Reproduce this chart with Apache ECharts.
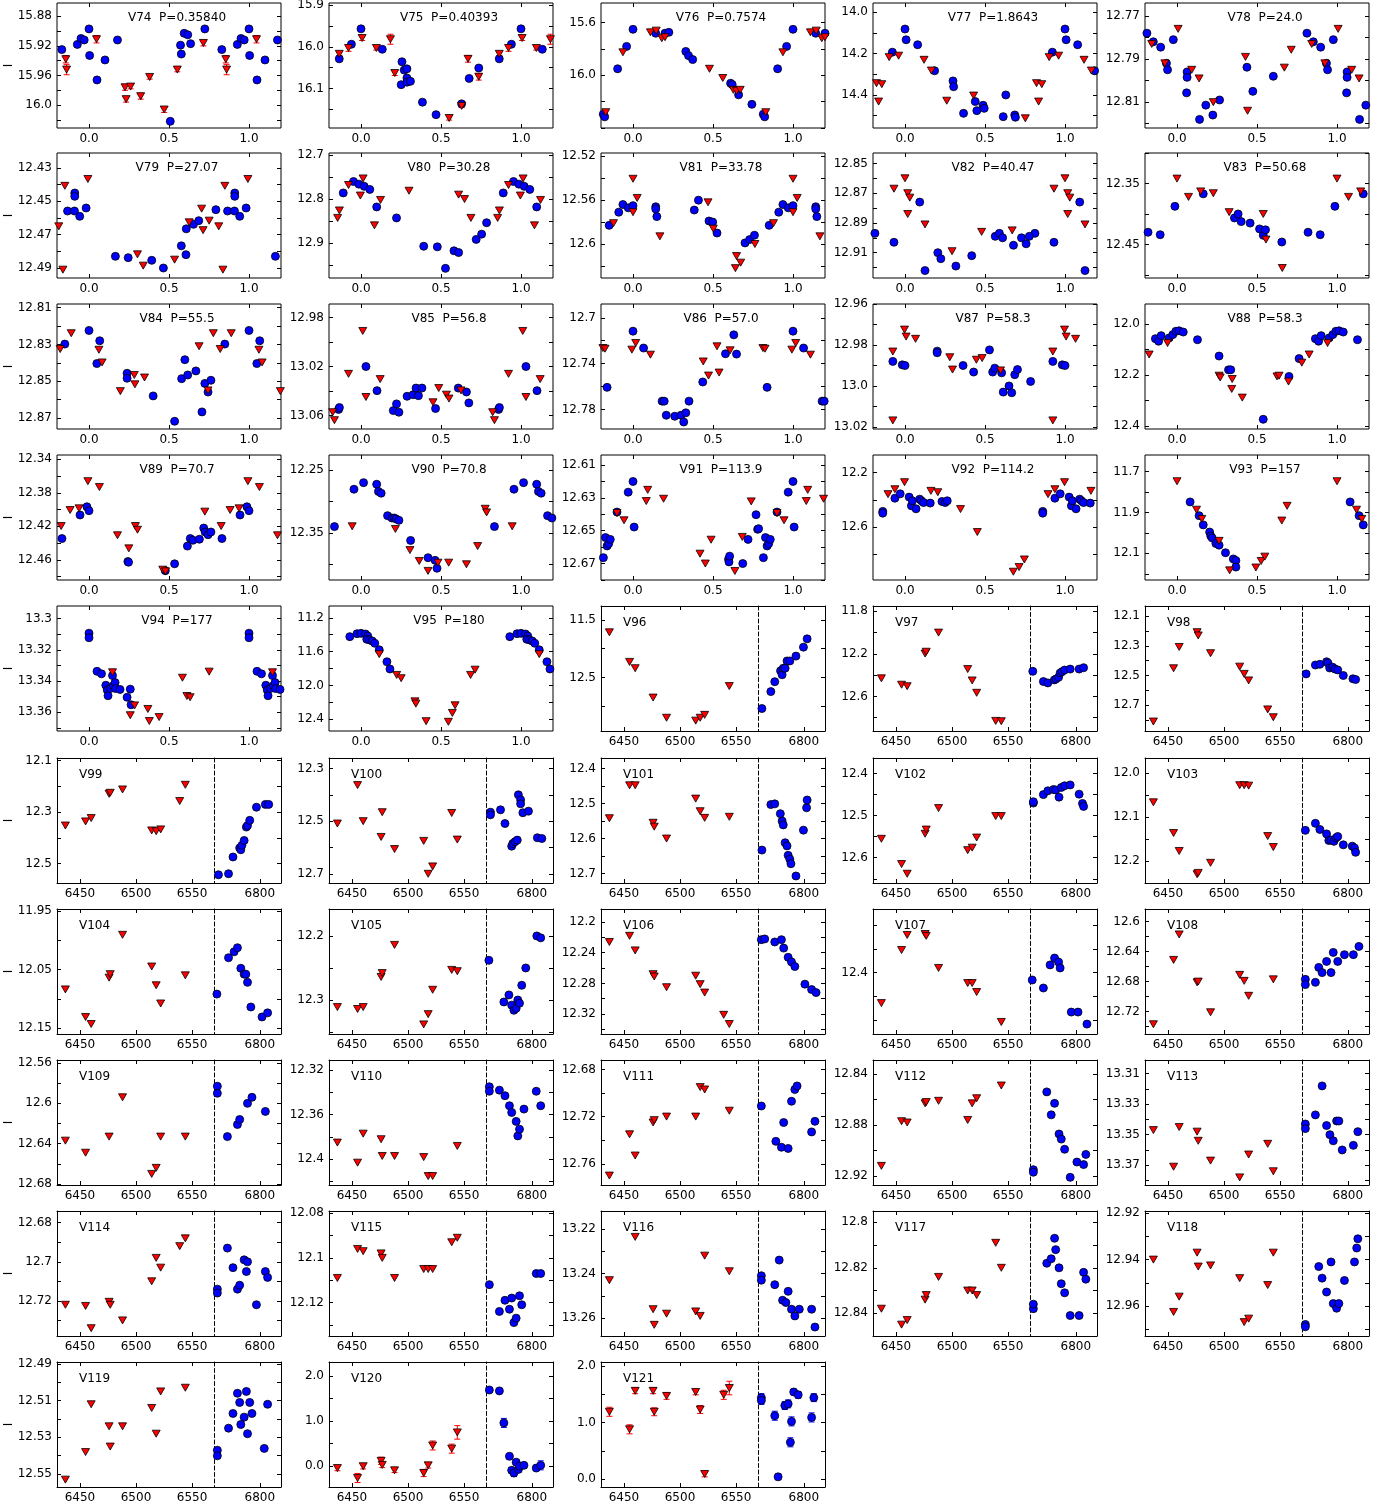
<!DOCTYPE html>
<html><head><meta charset="utf-8">
<script src="https://cdn.jsdelivr.net/npm/echarts@6/dist/echarts.min.js"></script>
<style>html,body{margin:0;padding:0;background:#fff}#c{width:1391px;height:1508px}</style>
</head><body><div id="c"></div>
<script>
// ---------------- DATA ----------------
const phaseNames=['V74','V75','V76','V77','V78','V79','V80','V81','V82','V83','V84','V85','V86','V87','V88','V89','V90','V91','V92','V93','V94','V95'];
const periods=['0.35840','0.40393','0.7574','1.8643','24.0','27.07','30.28','33.78','40.47','50.68','55.5','56.8','57.0','58.3','58.3','70.7','70.8','113.9','114.2','157','177','180'];
const brokenNames=['V96','V97','V98','V99','V100','V101','V102','V103','V104','V105','V106','V107','V108','V109','V110','V111','V112','V113','V114','V115','V116','V117','V118','V119','V120','V121'];
const phaseTickLabels=['0.0','0.5','1.0'];
const leftTickLabels=['6450','6500','6550'];
const rightTickLabels=['6800'];
const phaseRange=[-0.2,1.2];
const leftRange=[6429.5,6569.6];
const rightRange=[6759,6819];
const leftDays=[6437,6455,6460,6476,6477,6488,6514,6518,6522,6539,6544];

const yRange={V74:[15.862,16.031],V75:[15.895,16.195],V76:[15.45,16.4],V77:[13.955,14.56],V78:[12.764,12.822],
V79:[12.421,12.496],V80:[12.695,12.98],V81:[12.517,12.631],V82:[12.843,12.927],V83:[12.3,12.505],
V84:[12.808,12.876],V85:[12.969,13.071],V86:[12.688,12.797],V87:[12.96,13.021],V88:[11.922,12.412],
V89:[12.335,12.484],V90:[12.226,12.425],V91:[12.604,12.68],V92:[12.07,12.99],V93:[11.62,12.23],
V94:[13.292,13.372],V95:[11.06,12.54],V96:[11.26,13.43],V97:[11.75,12.925],V98:[12.03,12.875],
V99:[12.09,12.575],V100:[12.26,12.735],V101:[12.37,12.727],V102:[12.363,12.66],V103:[11.965,12.25],
V104:[11.947,12.16],V105:[12.158,12.353],V106:[12.183,12.346],V107:[12.13,12.66],V108:[12.583,12.75],
V109:[12.557,12.681],V110:[12.311,12.423],V111:[12.672,12.778],V112:[12.829,12.927],V113:[13.301,13.383],
V114:[12.674,12.738],V115:[12.079,12.135],V116:[13.212,13.268],V117:[12.795,12.85],V118:[12.919,12.973],
V119:[12.489,12.557],V120:[-0.46,2.31],V121:[-0.14,2.07]};
const yLabels={V74:['15.88','15.92','15.96','16.0'],V75:['15.9','16.0','16.1'],V76:['15.6','16.0'],V77:['14.0','14.2','14.4'],
V78:['12.77','12.79','12.81'],V79:['12.43','12.45','12.47','12.49'],V80:['12.7','12.8','12.9'],V81:['12.52','12.56','12.6'],
V82:['12.85','12.87','12.89','12.91'],V83:['12.35','12.45'],V84:['12.81','12.83','12.85','12.87'],V85:['12.98','13.02','13.06'],
V86:['12.7','12.74','12.78'],V87:['12.96','12.98','13.0','13.02'],V88:['12.0','12.2','12.4'],V89:['12.34','12.38','12.42','12.46'],
V90:['12.25','12.35'],V91:['12.61','12.63','12.65','12.67'],V92:['12.2','12.6'],V93:['11.7','11.9','12.1'],
V94:['13.3','13.32','13.34','13.36'],V95:['11.2','11.6','12.0','12.4'],V96:['11.5','12.5'],V97:['11.8','12.2','12.6'],
V98:['12.1','12.3','12.5','12.7'],V99:['12.1','12.3','12.5'],V100:['12.3','12.5','12.7'],V101:['12.4','12.5','12.6','12.7'],
V102:['12.4','12.5','12.6'],V103:['12.0','12.1','12.2'],V104:['11.95','12.05','12.15'],V105:['12.2','12.3'],
V106:['12.2','12.24','12.28','12.32'],V107:['12.4'],V108:['12.6','12.64','12.68','12.72'],V109:['12.56','12.6','12.64','12.68'],
V110:['12.32','12.36','12.4'],V111:['12.68','12.72','12.76'],V112:['12.84','12.88','12.92'],V113:['13.31','13.33','13.35','13.37'],
V114:['12.68','12.7','12.72'],V115:['12.08','12.1','12.12'],V116:['13.22','13.24','13.26'],V117:['12.8','12.82','12.84'],
V118:['12.92','12.94','12.96'],V119:['12.49','12.51','12.53','12.55'],V120:['0.0','1.0','2.0'],V121:['0.0','1.0','2.0']};
const yStep={V74:0.02,V75:0.05,V76:0.2,V77:0.1,V78:0.01,V79:0.01,V80:0.05,V81:0.02,V82:0.01,V83:0.05,V84:0.01,V85:0.02,
V86:0.02,V87:0.01,V88:0.1,V89:0.02,V90:0.05,V91:0.01,V92:0.2,V93:0.1,V94:0.01,V95:0.2,V96:0.5,V97:0.2,V98:0.1,V99:0.1,
V100:0.1,V101:0.05,V102:0.05,V103:0.05,V104:0.05,V105:0.05,V106:0.02,V107:0.1,V108:0.02,V109:0.02,V110:0.02,V111:0.02,
V112:0.02,V113:0.01,V114:0.01,V115:0.01,V116:0.01,V117:0.01,V118:0.01,V119:0.01,V120:0.5,V121:0.5};
const notInverted=['V120','V121'];

// phase-folded panels: [phase, mag(, err)]
const V74b=[[0.83,15.925],[0.927,15.918],[0.95,15.910],[0.97,15.912],[0.0,15.897],[0.004,15.933],[0.05,15.966],[0.10,15.939],[0.178,15.912],[0.508,16.022],[0.572,15.919],[0.577,15.931],[0.595,15.903],[0.617,15.905],[0.635,15.917],[0.724,15.897]];
const V74r=[[0.855,15.938,0.005],[0.86,15.952,0.007],[0.047,15.911,0.005],[0.225,15.976,0.004],[0.232,15.992,0.004],[0.26,15.975,0.003],[0.323,15.988,0.004],[0.379,15.962,0.003],[0.47,16.006,0.004],[0.552,15.952,0.003],[0.715,15.916,0.004]];
const V75b=[[0.864,16.029],[0.94,15.994],[0.0,15.957],[0.133,16.006],[0.256,16.036],[0.27,16.056],[0.287,16.053],[0.251,16.091],[0.287,16.075],[0.287,16.085],[0.309,16.083],[0.384,16.133],[0.469,16.163],[0.629,16.137],[0.676,16.076],[0.736,16.051]];
const V75r=[[0.864,16.017,0.004],[0.922,16.003,0.008],[0.007,15.979,0.006],[0.096,16.003,0.005],[0.184,15.982,0.012],[0.211,16.063,0.006],[0.551,16.171,0.005],[0.629,16.142,0.004],[0.669,16.029,0.008],[0.736,16.072,0.008]];
const V76b=[[0.814,16.295],[0.823,16.315],[0.904,15.95],[0.96,15.78],[0.0,15.65],[0.142,15.68],[0.2,15.68],[0.224,15.673],[0.33,15.818],[0.347,15.85],[0.373,15.88],[0.61,16.06],[0.62,16.07],[0.66,16.148],[0.743,16.22]];
const V76r=[[0.83,16.28],[0.937,15.825],[0.109,15.673],[0.145,15.66],[0.18,15.718],[0.2,15.71],[0.478,15.95],[0.561,16.02],[0.627,16.11],[0.647,16.118],[0.67,16.11]];
const V77b=[[0.921,14.193],[0.0,14.081],[0.007,14.133],[0.079,14.157],[0.185,14.283],[0.3,14.332],[0.304,14.36],[0.366,14.489],[0.439,14.432],[0.449,14.476],[0.488,14.45],[0.495,14.465],[0.63,14.4],[0.614,14.505],[0.686,14.497],[0.69,14.508]];
const V77r=[[0.822,14.343],[0.835,14.432],[0.855,14.348],[0.901,14.217],[0.96,14.21],[0.119,14.23],[0.165,14.282],[0.261,14.428],[0.429,14.403],[0.752,14.513]];
const V78b=[[0.812,12.778],[0.852,12.782],[0.898,12.7845],[0.934,12.792],[0.941,12.795],[0.977,12.781],[0.063,12.796],[0.063,12.7985],[0.06,12.8057],[0.141,12.818],[0.18,12.8114],[0.224,12.816],[0.266,12.809],[0.437,12.7938],[0.474,12.805],[0.602,12.798]];
const V78r=[[0.842,12.783],[0.924,12.792],[0.007,12.776],[0.092,12.795],[0.138,12.799],[0.227,12.81],[0.428,12.789],[0.441,12.814],[0.671,12.794],[0.714,12.7857]];
const V79b=[[0.793,12.455],[0.866,12.4558],[0.911,12.445],[0.911,12.447],[0.909,12.4558],[0.942,12.459],[0.982,12.454],[0.165,12.483],[0.245,12.4838],[0.392,12.4854],[0.465,12.49],[0.577,12.4767],[0.606,12.482],[0.608,12.4665],[0.653,12.4638],[0.686,12.4616]];
const V79r=[[0.811,12.465],[0.837,12.491],[0.849,12.4407],[0.993,12.4366],[0.303,12.4818],[0.339,12.4886],[0.535,12.485],[0.626,12.4626],[0.704,12.4544],[0.713,12.4673],[0.751,12.4616]];
const V80b=[[0.889,12.786],[0.953,12.76],[0.987,12.766],[0.02,12.771],[0.055,12.778],[0.098,12.818],[0.222,12.843],[0.392,12.9076],[0.477,12.909],[0.528,12.958],[0.581,12.918],[0.61,12.922],[0.72,12.892],[0.754,12.88],[0.785,12.854]];
const V80r=[[0.854,12.843],[0.865,12.826],[0.922,12.768],[0.996,12.792],[0.013,12.753],[0.084,12.86],[0.122,12.802],[0.3,12.781],[0.61,12.79],[0.647,12.8],[0.687,12.843]];
const V81b=[[0.851,12.583],[0.911,12.571],[0.937,12.564],[0.97,12.567],[0.0,12.565],[0.142,12.566],[0.142,12.568],[0.149,12.575],[0.383,12.569],[0.409,12.56],[0.475,12.579],[0.498,12.58],[0.525,12.59],[0.7,12.599],[0.729,12.596],[0.759,12.592]];
const V81r=[[0.878,12.581],[0.0,12.5405],[0.0,12.571],[0.026,12.558],[0.168,12.593],[0.469,12.562],[0.502,12.586],[0.647,12.611],[0.673,12.617],[0.64,12.622],[0.762,12.6]];
const V82b=[[0.812,12.897],[0.931,12.903],[0.092,12.876],[0.125,12.922],[0.205,12.91],[0.224,12.914],[0.318,12.919],[0.417,12.912],[0.564,12.899],[0.59,12.897],[0.61,12.9],[0.678,12.905],[0.728,12.9],[0.757,12.904],[0.777,12.899]];
const V82r=[[0.931,12.867],[0.0,12.86],[0.017,12.87],[0.03,12.873],[0.017,12.884],[0.125,12.891],[0.294,12.909],[0.479,12.896],[0.67,12.895]];
const V83b=[[0.819,12.43],[0.895,12.434],[0.987,12.3875],[0.164,12.367],[0.359,12.4065],[0.382,12.4],[0.401,12.4125],[0.457,12.415],[0.516,12.4245],[0.539,12.435],[0.553,12.426],[0.655,12.446]];
const V83r=[[0.0,12.342],[0.072,12.372],[0.148,12.363],[0.227,12.366],[0.326,12.397],[0.539,12.4],[0.556,12.442],[0.658,12.4886]];
const V84b=[[0.849,12.8298],[0.0,12.8224],[0.049,12.8404],[0.067,12.828],[0.238,12.8457],[0.238,12.8484],[0.401,12.858],[0.535,12.8718],[0.579,12.8486],[0.599,12.8383],[0.617,12.8466],[0.668,12.8444],[0.706,12.8667],[0.724,12.8512],[0.744,12.8559],[0.762,12.8495]];
const V84r=[[0.82,12.8325],[0.889,12.8239],[0.062,12.8329],[0.082,12.8398],[0.196,12.8554],[0.283,12.8466],[0.287,12.8517],[0.347,12.848],[0.688,12.831],[0.744,12.855],[0.777,12.8239]];
const V85b=[[0.86,13.055],[0.865,13.0535],[0.031,13.02],[0.1,13.0397],[0.202,13.056],[0.222,13.0505],[0.237,13.0573],[0.288,13.0443],[0.326,13.043],[0.344,13.0376],[0.359,13.0438],[0.381,13.0376],[0.466,13.0543],[0.608,13.0376],[0.659,13.0408],[0.674,13.0497]];
const V85r=[[0.823,13.0573],[0.834,13.0638],[0.922,13.026],[0.011,12.991],[0.031,13.0449],[0.12,13.0303],[0.45,13.0492],[0.486,13.0376],[0.534,13.043],[0.55,13.0462],[0.625,13.0395]];
const V86b=[[0.838,12.7607],[0.0,12.7117],[0.066,12.7264],[0.182,12.7727],[0.195,12.7727],[0.208,12.785],[0.261,12.7859],[0.3,12.785],[0.317,12.7909],[0.33,12.7829],[0.35,12.7727],[0.436,12.756],[0.578,12.7314],[0.63,12.7149],[0.647,12.7317]];
const V86r=[[0.812,12.7264],[0.825,12.727],[0.993,12.7278],[0.017,12.722],[0.109,12.7322],[0.439,12.7381],[0.472,12.7504],[0.525,12.7249],[0.538,12.7478],[0.607,12.7284]];
const V87b=[[0.924,12.988],[0.983,12.9897],[0.0,12.99],[0.201,12.983],[0.201,12.9838],[0.363,12.99],[0.429,12.9932],[0.528,12.9824],[0.548,12.9932],[0.561,12.9913],[0.604,12.9936],[0.614,13.003],[0.65,13.0],[0.667,13.0033],[0.686,12.9945],[0.703,12.992],[0.785,12.9978]];
const V87r=[[0.924,12.9832],[0.924,13.0168],[0.997,12.9725],[0.007,12.9759],[0.066,12.977],[0.28,12.986],[0.297,12.992],[0.446,12.9872],[0.482,12.9864],[0.597,12.9924]];
const V88b=[[0.865,12.058],[0.885,12.068],[0.901,12.046],[0.951,12.055],[0.974,12.042],[0.993,12.029],[0.013,12.027],[0.039,12.032],[0.128,12.062],[0.263,12.126],[0.322,12.18],[0.336,12.18],[0.539,12.374],[0.7,12.206],[0.763,12.136]];
const V88r=[[0.826,12.12],[0.941,12.075],[0.263,12.203],[0.27,12.21],[0.342,12.255],[0.345,12.216],[0.408,12.289],[0.625,12.206],[0.638,12.203],[0.697,12.226],[0.78,12.152]];
const V89b=[[0.831,12.4346],[0.944,12.4065],[0.987,12.3967],[0.0,12.4014],[0.243,12.462],[0.247,12.4628],[0.477,12.4729],[0.535,12.4647],[0.615,12.4436],[0.633,12.4346],[0.65,12.4366],[0.69,12.4354],[0.717,12.4221],[0.726,12.4268],[0.744,12.43],[0.762,12.4268]];
const V89r=[[0.826,12.4197],[0.882,12.4006],[0.938,12.3986],[0.993,12.3662],[0.065,12.3732],[0.178,12.4307],[0.249,12.4463],[0.29,12.4197],[0.303,12.4241],[0.461,12.4717],[0.479,12.4737],[0.724,12.4025]];
const V90b=[[0.834,12.34],[0.956,12.2805],[0.016,12.27],[0.098,12.2726],[0.109,12.284],[0.126,12.2868],[0.166,12.3226],[0.193,12.3263],[0.208,12.3263],[0.22,12.3279],[0.237,12.33],[0.31,12.362],[0.419,12.3895],[0.463,12.3937],[0.475,12.4063]];
const V90r=[[0.945,12.3395],[0.215,12.3437],[0.306,12.3774],[0.364,12.3947],[0.419,12.4105],[0.481,12.3974],[0.548,12.3974],[0.659,12.4],[0.729,12.371],[0.776,12.3116],[0.785,12.3174]];
const V91b=[[0.686,12.67],[0.719,12.6553],[0.769,12.6403],[0.779,12.6492],[0.785,12.6488],[0.815,12.6664],[0.828,12.6542],[0.838,12.6593],[0.848,12.6579],[0.858,12.6553],[0.9,12.6387],[0.97,12.6266],[0.0,12.6201],[0.007,12.6478],[0.597,12.6674],[0.6,12.669],[0.604,12.6655]];
const V91r=[[0.944,12.6437],[0.083,12.632],[0.092,12.6252],[0.191,12.6306],[0.419,12.664],[0.452,12.67],[0.488,12.6555],[0.637,12.6745],[0.683,12.6538],[0.739,12.6322],[0.9,12.6393]];
const V92b=[[0.861,12.485],[0.861,12.498],[0.937,12.388],[0.97,12.356],[0.026,12.38],[0.04,12.444],[0.046,12.407],[0.069,12.466],[0.092,12.395],[0.102,12.407],[0.116,12.42],[0.158,12.424],[0.231,12.412],[0.251,12.42],[0.264,12.407]];
const V92r=[[0.894,12.358],[0.937,12.322],[0.997,12.27],[0.162,12.334],[0.205,12.344],[0.347,12.468],[0.452,12.637],[0.677,12.929],[0.713,12.895],[0.746,12.839]];
const V93b=[[0.082,11.849],[0.138,11.916],[0.164,11.961],[0.204,11.996],[0.211,12.015],[0.22,12.025],[0.243,12.052],[0.263,12.06],[0.303,12.097],[0.352,12.127],[0.368,12.135],[0.368,12.167]];
const V93r=[[0.0,11.748],[0.122,11.887],[0.155,11.932],[0.263,12.039],[0.329,12.183],[0.493,12.169],[0.526,12.137],[0.549,12.116],[0.655,11.94],[0.688,11.868]];
const V94b=[[0.0,13.3094],[0.0,13.3123],[0.05,13.3338],[0.078,13.3354],[0.105,13.3427],[0.114,13.3458],[0.119,13.3494],[0.133,13.3448],[0.147,13.3365],[0.152,13.3431],[0.163,13.341],[0.166,13.3448],[0.194,13.3454],[0.238,13.3504],[0.258,13.3452],[0.263,13.3552]];
const V94r=[[0.147,13.3344],[0.258,13.3619],[0.285,13.3556],[0.368,13.3579],[0.377,13.3656],[0.438,13.3631],[0.584,13.3379],[0.612,13.3496],[0.632,13.3504],[0.751,13.334]];
const V95b=[[0.93,11.423],[0.975,11.388],[0.0,11.384],[0.028,11.392],[0.042,11.415],[0.036,11.454],[0.053,11.462],[0.07,11.474],[0.086,11.501],[0.114,11.579],[0.162,11.72],[0.181,11.806]];
const V95r=[[0.114,11.63],[0.223,11.876],[0.251,11.915],[0.337,12.189],[0.343,12.216],[0.407,12.424],[0.546,12.431],[0.571,12.326],[0.588,12.236],[0.685,11.876],[0.713,11.814]];

// broken-axis panels: red = mags at leftDays, blue = [day, mag]
const V96r=[11.717,12.23,12.34,12.85,null,13.2,13.25,13.2,13.15,null,12.65];
const V96b=[[6762.5,13.04],[6770.5,12.746],[6774,12.574],[6779.2,12.386],[6780.6,12.454],[6781.6,12.34],[6783.3,12.34],[6785,12.214],[6787.5,12.214],[6793,12.13],[6799.7,11.974],[6803,11.83]];
const V97r=[12.43,12.49,12.504,12.197,12.18,12.0,12.343,12.45,12.566,12.83,12.833];
const V97b=[[6761.5,12.364],[6771,12.46],[6775,12.473],[6780.8,12.445],[6782.3,12.436],[6784.6,12.42],[6786,12.38],[6787.7,12.367],[6790,12.352],[6795,12.343],[6803,12.343],[6807,12.33]];
const V98r=[12.811,12.451,12.307,12.207,12.229,12.349,12.44,12.489,12.533,12.729,12.782];
const V98b=[[6762.7,12.489],[6771,12.429],[6775,12.424],[6781,12.407],[6782.3,12.416],[6783.8,12.449],[6786.5,12.444],[6788.5,12.456],[6791,12.462],[6796,12.5],[6804.6,12.522],[6807,12.527]];
const V99r=[12.352,12.336,12.323,12.229,12.225,12.212,12.371,12.374,12.367,12.257,12.194];
const V99b=[[6763,12.543],[6772,12.539],[6776,12.474],[6782,12.439],[6783,12.446],[6784,12.429],[6786,12.41],[6788,12.358],[6789,12.352],[6791,12.332],[6797,12.281],[6805,12.27],[6808,12.27]];
const V100r=[12.509,12.363,12.5,12.56,12.466,12.606,12.575,12.7,12.672,12.469,12.57];
const V100b=[[6763,12.466],[6763,12.476],[6772,12.457],[6776,12.509],[6782,12.595],[6783,12.585],[6785,12.578],[6787,12.572],[6788,12.4],[6790,12.419],[6790,12.434],[6792,12.468],[6797,12.462],[6805,12.563],[6809,12.566]];
const V101r=[12.542,12.448,12.448,12.555,12.566,12.6,12.486,12.522,12.541,null,12.538];
const V101b=[[6762.5,12.633],[6770.5,12.503],[6774,12.501],[6779,12.529],[6780.6,12.55],[6781.6,12.561],[6783.3,12.612],[6785,12.621],[6786,12.648],[6787.5,12.659],[6788.5,12.672],[6793,12.707],[6799.7,12.576],[6802.5,12.512],[6803,12.49]];
const V102r=[12.555,12.615,12.638,12.543,12.533,12.482,12.582,12.576,12.552,12.501,12.501];
const V102b=[[6762,12.47],[6762,12.467],[6771,12.45],[6775,12.441],[6780,12.438],[6782,12.439],[6785,12.456],[6787,12.433],[6790,12.429],[6795,12.427],[6803,12.449],[6806,12.471],[6807,12.478]];
const V103r=[12.066,12.136,12.177,12.23,12.227,12.204,12.027,12.027,12.028,12.143,12.168];
const V103b=[[6762,12.13],[6771,12.114],[6775,12.128],[6781,12.138],[6783,12.153],[6785,12.152],[6787.6,12.155],[6789.6,12.147],[6791,12.144],[6796,12.163],[6804,12.166],[6806,12.17],[6807,12.18]];
const V104r=[12.084,12.131,12.143,12.064,12.058,11.991,12.045,12.077,12.108,null,12.06];
const V104b=[[6761.6,12.092],[6772,12.03],[6777,12.02],[6780,12.013],[6783,12.048],[6786,12.058],[6787.5,12.058],[6789,12.072],[6792,12.114],[6802,12.131],[6807,12.124]];
const V105r=[12.311,12.314,12.311,12.264,12.258,12.214,12.338,12.322,12.284,12.253,12.255];
const V105b=[[6761.6,12.238],[6775,12.303],[6779.5,12.292],[6782,12.308],[6784,12.316],[6786,12.313],[6787.5,12.3],[6789,12.305],[6791,12.277],[6794.6,12.25],[6804.5,12.2],[6808,12.203]];
const V106r=[12.226,12.218,12.237,12.268,12.271,12.285,12.27,12.281,12.292,12.321,12.333];
const V106b=[[6762,12.223],[6765,12.222],[6774,12.226],[6780,12.223],[6782,12.234],[6786,12.246],[6789,12.252],[6792,12.258],[6801,12.281],[6807,12.288],[6811,12.292]];
const V107r=[12.529,12.304,12.24,12.236,12.244,12.38,12.444,12.444,12.482,null,12.609];
const V107b=[[6761,12.431],[6771,12.465],[6777,12.367],[6781,12.338],[6784.6,12.355],[6786,12.38],[6796,12.567],[6802,12.567],[6810,12.618]];
const V108r=[12.737,12.651,12.617,12.681,12.68,12.721,12.671,12.679,12.699,null,12.677];
const V108b=[[6762,12.677],[6762,12.684],[6771,12.681],[6774,12.661],[6777,12.668],[6781,12.653],[6785,12.668],[6787,12.641],[6791,12.653],[6797,12.644],[6805,12.644],[6810,12.633]];
const V109r=[12.637,12.649,null,12.633,null,12.594,12.67,12.664,12.633,null,12.633];
const V109b=[[6762,12.583],[6762,12.59],[6771,12.633],[6780,12.621],[6782,12.616],[6789,12.6],[6793,12.594],[6805,12.608]];
const V110r=[12.385,12.403,12.377,12.382,12.397,12.397,12.398,12.415,12.415,null,12.388];
const V110b=[[6762,12.335],[6762,12.339],[6771,12.338],[6776,12.343],[6780,12.352],[6782,12.358],[6786,12.366],[6787.5,12.379],[6789,12.373],[6793,12.355],[6804,12.339],[6808,12.352]];
const V111r=[12.77,12.735,12.753,12.725,12.723,12.72,12.72,12.695,12.697,null,12.715];
const V111b=[[6762,12.711],[6775,12.741],[6780,12.746],[6782,12.725],[6786,12.747],[6789,12.707],[6792,12.697],[6794,12.694],[6807,12.733],[6810,12.724]];
const V112r=[12.912,12.877,12.878,12.863,12.862,12.861,12.876,12.863,12.859,null,12.849];
const V112b=[[6762,12.915],[6762,12.917],[6774,12.854],[6778,12.872],[6781,12.863],[6785,12.887],[6787,12.891],[6790,12.899],[6795,12.921],[6801,12.909],[6807,12.911],[6809,12.903]];
const V113r=[13.347,13.371,13.345,13.348,13.354,13.367,13.378,null,13.363,13.356,13.374];
const V113b=[[6762,13.343],[6762,13.346],[6771,13.337],[6777,13.318],[6781,13.344],[6784,13.35],[6787,13.354],[6790,13.341],[6792,13.341],[6795,13.36],[6805,13.357],[6809,13.348]];
const V114r=[12.722,12.7226,12.734,12.7205,12.722,12.73,12.71,12.698,12.703,12.692,12.688];
const V114b=[[6762,12.714],[6762,12.716],[6771,12.693],[6776,12.703],[6780,12.714],[6782,12.712],[6786,12.699],[6788,12.705],[6789,12.7],[6797,12.722],[6805,12.705],[6807,12.708]];
const V115r=[12.109,12.096,12.097,12.098,12.1,12.109,12.105,12.105,12.105,12.093,12.091];
const V115b=[[6762,12.112],[6771,12.124],[6776,12.119],[6780,12.123],[6782,12.118],[6784,12.129],[6786,12.127],[6789,12.117],[6791,12.121],[6804,12.107],[6808,12.107]];
const V116r=[13.243,null,13.2236,13.256,13.263,13.258,13.257,13.259,13.232,null,13.239];
const V116b=[[6762,13.241],[6762,13.243],[6774,13.245],[6778,13.234],[6781,13.252],[6784,13.253],[6786,13.248],[6789,13.256],[6792,13.259],[6796,13.256],[6807,13.256],[6810,13.264]];
const V117r=[12.838,12.845,12.843,12.834,12.832,12.824,12.83,12.83,12.832,12.809,12.82];
const V117b=[[6762,12.838],[6762,12.836],[6774,12.818],[6778,12.816],[6781,12.807],[6782,12.812],[6785,12.82],[6787,12.827],[6790,12.831],[6795,12.841],[6803,12.841],[6807,12.822],[6809,12.825]];
const V118r=[12.94,12.9626,12.956,12.937,12.943,12.9425,12.948,12.967,12.9655,12.951,12.937];
const V118b=[[6762,12.968],[6762,12.969],[6774,12.943],[6777,12.948],[6781,12.954],[6785,12.941],[6787,12.959],[6790,12.961],[6792,12.959],[6797,12.949],[6806,12.941],[6808,12.935],[6809,12.931]];
const V119r=[12.553,12.538,12.512,12.524,12.535,12.524,12.514,12.528,12.505,null,12.503];
const V119b=[[6762,12.537],[6762,12.54],[6772,12.525],[6776,12.517],[6780,12.506],[6782,12.511],[6783,12.523],[6786,12.519],[6788,12.505],[6789,12.528],[6791,12.511],[6793,12.517],[6804,12.536],[6807,12.512]];
const V120r=[-0.04,-0.26,0.0,0.12,0.03,-0.09,-0.15,0.02,0.46,0.39,0.75];
const V120re=[0.06,0.1,0.06,0.08,0.06,0.05,0.08,0.06,0.1,0.1,0.15];
const V120b=[[6762,1.69,0.05],[6771,1.67,0.05],[6775,0.96,0.1],[6780,0.22,0.06],[6782,-0.09,0.06],[6784,-0.15,0.08],[6786,0.09,0.06],[6788,-0.07,0.06],[6789,0.0,0.06],[6793,0.02,0.06],[6804,-0.04,0.06],[6808,0.02,0.1]];
const V121r=[1.19,0.88,1.56,1.56,1.19,1.47,1.54,1.23,0.09,1.49,1.61];
const V121re=[0.08,0.08,0.05,0.05,0.07,0.06,0.05,0.07,0.05,0.08,0.12];
const V121b=[[6762,1.44,0.07],[6762,1.39,0.07],[6774,1.12,0.08],[6777,0.04,0.05],[6783,1.3,0.07],[6786,1.33,0.07],[6788,0.65,0.08],[6789,1.02,0.08],[6791,1.54,0.05],[6795,1.49,0.06],[6807,1.09,0.08],[6809,1.44,0.07]];

const DATA={V74:[V74b,V74r],V75:[V75b,V75r],V76:[V76b,V76r],V77:[V77b,V77r],V78:[V78b,V78r],V79:[V79b,V79r],V80:[V80b,V80r],
V81:[V81b,V81r],V82:[V82b,V82r],V83:[V83b,V83r],V84:[V84b,V84r],V85:[V85b,V85r],V86:[V86b,V86r],V87:[V87b,V87r],V88:[V88b,V88r],
V89:[V89b,V89r],V90:[V90b,V90r],V91:[V91b,V91r],V92:[V92b,V92r],V93:[V93b,V93r],V94:[V94b,V94r],V95:[V95b,V95r],
V96:[V96b,V96r],V97:[V97b,V97r],V98:[V98b,V98r],V99:[V99b,V99r],V100:[V100b,V100r],V101:[V101b,V101r],V102:[V102b,V102r],
V103:[V103b,V103r],V104:[V104b,V104r],V105:[V105b,V105r],V106:[V106b,V106r],V107:[V107b,V107r],V108:[V108b,V108r],
V109:[V109b,V109r],V110:[V110b,V110r],V111:[V111b,V111r],V112:[V112b,V112r],V113:[V113b,V113r],V114:[V114b,V114r],
V115:[V115b,V115r],V116:[V116b,V116r],V117:[V117b,V117r],V118:[V118b,V118r],V119:[V119b,V119r],V120:[V120b,V120r,V120re],V121:[V121b,V121r,V121re]};

// ---------------- LAYOUT / STYLE ----------------
const FONT='DejaVu Sans';
const COLS=[57,329,601,873,1145];
const ROWS=[3,153,304,455,606,758,909,1060,1211,1362];
const PW=224, PH=125, LW=157;

const option={animation:false,backgroundColor:'#ffffff',grid:[],xAxis:[],yAxis:[],series:[],graphic:[]};

function ticksFor(min,max,step){const a=[];const k0=Math.ceil(min/step-1e-9),k1=Math.floor(max/step+1e-9);for(let k=k0;k<=k1;k++)a.push(+(k*step).toFixed(6));return a;}
function fmt(labels){return v=>{for(const s of labels){if(Math.abs(parseFloat(s)-v)<1e-7)return s;}return '';};}
const BLACK={color:'#000',width:1};

function addGrid(l,t,w,h,show){option.grid.push({left:l,top:t,width:w,height:h,show:show,borderColor:'#000',borderWidth:1,backgroundColor:'rgba(0,0,0,0)',outerBoundsMode:'none',containLabel:false});return option.grid.length-1;}
function addX(gi,range,labels,pos,showLabel,line){
  const vals=labels.map(Number);
  option.xAxis.push({type:'value',gridIndex:gi,position:pos,min:range[0],max:range[1],
    axisLine:{show:!!line,onZero:false,lineStyle:line||BLACK},
    axisTick:{show:true,inside:true,length:4,customValues:vals,lineStyle:BLACK},
    axisLabel:{show:showLabel,customValues:vals,formatter:fmt(labels),margin:5,color:'#000',fontFamily:FONT,fontSize:12,hideOverlap:false},
    splitLine:{show:false},minorTick:{show:false}});
  return option.xAxis.length-1;
}
function addY(gi,nm,pos,showLabel,showTicks,line){
  const r=yRange[nm],labels=yLabels[nm];
  option.yAxis.push({type:'value',gridIndex:gi,position:pos,min:r[0],max:r[1],inverse:notInverted.indexOf(nm)<0,
    axisLine:{show:!!line,onZero:false,lineStyle:line||BLACK},
    axisTick:{show:showTicks,inside:true,length:4,customValues:ticksFor(r[0],r[1],yStep[nm]),lineStyle:BLACK},
    axisLabel:{show:showLabel,customValues:labels.map(Number),formatter:fmt(labels),margin:5,color:'#000',fontFamily:FONT,fontSize:12,hideOverlap:false},
    splitLine:{show:false}});
  return option.yAxis.length-1;
}
function blueSeries(xi,yi,data){return {type:'scatter',xAxisIndex:xi,yAxisIndex:yi,data:data,symbol:'circle',symbolSize:8,clip:true,silent:true,z:3,
  itemStyle:{color:'#0000ff',borderColor:'#000',borderWidth:0.8,opacity:1}};}
function redSeries(xi,yi,data){return {type:'scatter',xAxisIndex:xi,yAxisIndex:yi,data:data,symbol:'triangle',symbolRotate:180,symbolSize:[8,7],clip:true,silent:true,z:4,
  itemStyle:{color:'#ff0000',borderColor:'#000',borderWidth:0.8,opacity:1}};}
function errSeries(xi,yi,data,color){
  return {type:'custom',xAxisIndex:xi,yAxisIndex:yi,data:data,clip:true,silent:true,z:2,encode:{x:0,y:1},
    renderItem:function(params,api){
      const x=api.value(0),y=api.value(1),e=api.value(2);
      if(!e)return null;
      const a=api.coord([x,y-e]),b=api.coord([x,y+e]);const c=3;const st={stroke:color,lineWidth:1};
      return {type:'group',children:[
        {type:'line',shape:{x1:a[0],y1:a[1],x2:b[0],y2:b[1]},style:st},
        {type:'line',shape:{x1:a[0]-c,y1:a[1],x2:a[0]+c,y2:a[1]},style:st},
        {type:'line',shape:{x1:b[0]-c,y1:b[1],x2:b[0]+c,y2:b[1]},style:st}]};
    }};
}
function expandPhase(arr){const out=[];for(const d of arr){for(const s of [-1,0,1]){const x=+(d[0]+s).toFixed(4);if(x>=phaseRange[0]&&x<=phaseRange[1])out.push([x].concat(d.slice(1)));}}return out;}
function titleText(text,x,y,align){option.graphic.push({type:'text',x:x,y:y,silent:true,z:100,style:{text:text,fill:'#000',font:'12px "'+FONT+'"',textAlign:align,textVerticalAlign:'middle'}});}
function ylabelI(T){option.graphic.push({type:'text',x:9,y:T+PH/2,rotation:Math.PI/2,silent:true,style:{text:'I',fill:'#000',font:'12px "'+FONT+'"',textAlign:'center',textVerticalAlign:'middle'}});}

// phase panels
phaseNames.forEach((nm,i)=>{
  const L=COLS[i%5],T=ROWS[Math.floor(i/5)];
  const gi=addGrid(L,T,PW,PH,true);
  const xb=addX(gi,phaseRange,phaseTickLabels,'bottom',true,null);
  addX(gi,phaseRange,phaseTickLabels,'top',false,null);
  const yl=addY(gi,nm,'left',true,true,null);
  addY(gi,nm,'right',false,true,null);
  const [b,r]=DATA[nm];
  const bd=expandPhase(b),rd=expandPhase(r);
  if(rd.some(d=>d.length>2))option.series.push(errSeries(xb,yl,rd,'#ff0000'));
  option.series.push(blueSeries(xb,yl,bd.map(d=>[d[0],d[1]])));
  option.series.push(redSeries(xb,yl,rd.map(d=>[d[0],d[1]])));
  titleText(nm+'  P='+periods[i],L+120,T+15,'center');
  if(i%5===0)ylabelI(T);
});

// broken-axis panels
brokenNames.forEach((nm,j)=>{
  const i=j+phaseNames.length;
  const L=COLS[i%5],T=ROWS[Math.floor(i/5)];
  const g1=addGrid(L,T,LW,PH,false);
  const g2=addGrid(L+LW,T,PW-LW,PH,false);
  const x1=addX(g1,leftRange,leftTickLabels,'bottom',true,BLACK);
  addX(g1,leftRange,leftTickLabels,'top',false,BLACK);
  const y1=addY(g1,nm,'left',true,true,BLACK);
  addY(g1,nm,'right',false,false,{color:'#000',width:1,type:[4,2.5]});
  const x2=addX(g2,rightRange,rightTickLabels,'bottom',true,BLACK);
  addX(g2,rightRange,rightTickLabels,'top',false,BLACK);
  const y2=addY(g2,nm,'right',false,true,BLACK);
  const [b,rm,re]=DATA[nm];
  const rd=[];leftDays.forEach((d,k)=>{if(rm[k]!=null)rd.push(re?[d,rm[k],re[k]]:[d,rm[k]]);});
  if(re)option.series.push(errSeries(x1,y1,rd,'#ff0000'));
  if(b.some(d=>d.length>2))option.series.push(errSeries(x2,y2,b,'#0000ff'));
  option.series.push(redSeries(x1,y1,rd.map(d=>[d[0],d[1]])));
  option.series.push(blueSeries(x2,y2,b.map(d=>[d[0],d[1]])));
  titleText(nm,L+22,T+17,'left');
  if(i%5===0)ylabelI(T);
});

const chart=echarts.init(document.getElementById('c'),null,{renderer:'canvas',width:1391,height:1508});
chart.setOption(option);
</script></body></html>
